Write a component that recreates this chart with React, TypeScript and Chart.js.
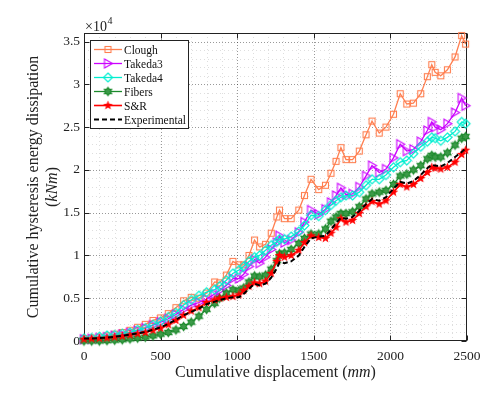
import React, { useEffect, useRef } from "react";
import { Chart, registerables } from "chart.js";

Chart.register(...registerables);

// Cumulative displacement (mm)
const displacement = [
  0, 50, 100, 150, 200, 250, 300, 350, 400, 450,
  500, 550, 600, 650, 700, 750, 800, 853, 885, 929,
  972, 1011, 1042, 1077, 1113, 1146, 1185, 1222, 1259, 1276,
  1309, 1352, 1402, 1439, 1482, 1532, 1576, 1612, 1645, 1677,
  1710, 1753, 1797, 1841, 1880, 1927, 1971, 2020, 2064, 2107,
  2150, 2198, 2241, 2270, 2292, 2329, 2372, 2422, 2465, 2491,
];

// Cumulative hysteresis energy dissipation (kNm)
const clough = [
  300, 350, 450, 600, 800, 1000, 1250, 1600, 1950, 2400,
  2700, 3200, 3900, 4700, 5100, 5000, 5600, 6900, 6800, 7700,
  9300, 8900, 8900, 10000, 11800, 11000, 11300, 12600, 14500, 15300,
  14300, 14300, 15300, 17000, 18900, 17700, 18200, 19600, 21000, 22600,
  21200, 21200, 22200, 24100, 25700, 24300, 25000, 26500, 28900, 27700,
  27800, 28900, 30900, 32300, 31400, 31000, 31700, 33200, 35700, 34700,
];
const takeda3 = [
  200, 250, 350, 450, 600, 750, 950, 1200, 1500, 1850,
  2200, 2600, 3100, 3700, 4200, 4500, 4900, 5500, 5900, 6500,
  7300, 7300, 7800, 8700, 9500, 9100, 9800, 10700, 11500, 12300,
  11500, 11800, 12700, 13900, 15300, 14800, 15400, 16200, 17000, 17900,
  17100, 17200, 18000, 19300, 20500, 19700, 20100, 21400, 23000, 22200,
  22400, 23300, 24600, 25600, 25000, 24700, 25400, 26700, 28400, 27500,
];
const takeda4 = [
  300, 350, 500, 650, 700, 850, 1000, 1300, 1500, 1900,
  2300, 2800, 3300, 4200, 4800, 5300, 5700, 6000, 6400, 7100,
  7900, 8300, 8700, 9300, 9800, 10000, 10600, 11200, 11600, 11900,
  11900, 12200, 12800, 13500, 14700, 14600, 15300, 15900, 16400, 16800,
  17000, 17000, 17400, 18200, 18900, 18900, 19400, 20300, 20900, 21100,
  21900, 22700, 23300, 23800, 23700, 23400, 23800, 24500, 25600, 25400,
];
const fibers = [
  0, 0, 0, 50, 100, 150, 250, 350, 450, 600,
  800, 1000, 1300, 1700, 2200, 2900, 3700, 4400, 5000, 5600,
  6000, 5900, 6200, 6900, 7600, 7500, 7700, 8400, 9400, 10200,
  10300, 10700, 11400, 12000, 12500, 12500, 13100, 14000, 14500, 14900,
  14900, 15100, 15700, 16600, 17200, 17400, 17600, 18300, 19300, 19500,
  20000, 20500, 21300, 21700, 21500, 21500, 22000, 22900, 23700, 23900,
];
const sAndR = [
  200, 250, 300, 350, 450, 550, 700, 850, 1000, 1250,
  1500, 1900, 2400, 3000, 3500, 3900, 4500, 4800, 5000, 5100,
  5200, 5400, 5900, 6400, 6800, 6700, 7000, 7900, 9300, 10000,
  9800, 10000, 10600, 11500, 12300, 12100, 12000, 12600, 13300, 14300,
  13900, 14100, 14900, 15700, 16300, 16000, 16400, 17400, 18300, 18000,
  18300, 19000, 19700, 20300, 20200, 20100, 20300, 20900, 21800, 22300,
];
const experimental = [
  300, 300, 350, 400, 500, 600, 750, 900, 1050, 1300,
  1600, 2000, 2500, 3000, 3400, 3800, 4300, 4600, 4800, 5000,
  5100, 5100, 5500, 6100, 6700, 6500, 6700, 7400, 8500, 9200,
  9100, 9300, 10000, 11000, 12000, 12200, 12300, 13000, 13800, 14400,
  14300, 14500, 15200, 16000, 16600, 16400, 16800, 17800, 18600, 18400,
  18700, 19400, 20200, 20600, 20500, 20400, 20800, 21500, 22100, 22500,
];

const seriesLabels = ["Clough", "Takeda3", "Takeda4", "Fibers", "S&R", "Experimental"];
const xTickValues = [0, 500, 1000, 1500, 2000, 2500];
const yTickValues = [0, 5000, 10000, 15000, 20000, 25000, 30000, 35000];
const yTickLabels = ["0", "0.5", "1", "1.5", "2", "2.5", "3", "3.5"];
const xMinorStep = 100;
const yMinorStep = 1000;

const SERIF = "'Liberation Serif', 'Times New Roman', serif";

function starPath(g: CanvasRenderingContext2D, cx: number, cy: number, n: number, ro: number, ri: number) {
  g.beginPath();
  for (let k = 0; k < n * 2; k++) {
    const r = k % 2 === 0 ? ro : ri;
    const a = -Math.PI / 2 + (k * Math.PI) / n;
    const px = cx + r * Math.cos(a);
    const py = cy + r * Math.sin(a);
    if (k === 0) g.moveTo(px, py);
    else g.lineTo(px, py);
  }
  g.closePath();
}

function makeMarker(kind: string, color: string): HTMLCanvasElement {
  const s = 13;
  const c = document.createElement("canvas");
  c.width = s;
  c.height = s;
  const g = c.getContext("2d")!;
  const m = s / 2;
  g.strokeStyle = color;
  g.fillStyle = color;
  g.lineWidth = 1.1;
  if (kind === "square") {
    g.strokeRect(3.5, 3.5, 6, 6);
  } else if (kind === "triRight") {
    g.beginPath();
    g.moveTo(m + 4.5, m);
    g.lineTo(m - 3.5, m - 4.5);
    g.lineTo(m - 3.5, m + 4.5);
    g.closePath();
    g.stroke();
  } else if (kind === "diamond") {
    g.beginPath();
    g.moveTo(m, m - 4.5);
    g.lineTo(m + 4.5, m);
    g.lineTo(m, m + 4.5);
    g.lineTo(m - 4.5, m);
    g.closePath();
    g.stroke();
  } else if (kind === "hexagram") {
    starPath(g, m, m, 6, 4.2, 2.5);
    g.fillStyle = "#3c9a48";
    g.fill();
    g.strokeStyle = color;
    g.stroke();
  } else if (kind === "pentagram") {
    starPath(g, m, m, 5, 5, 2.1);
    g.fill();
  }
  return c;
}

export default function App() {
  const ref = useRef<HTMLCanvasElement>(null);

  useEffect(() => {
    document.body.style.margin = "0";
    document.body.style.overflow = "hidden";
    const canvas = ref.current!;

    const styles = [
      { color: "#FF7F50", marker: "square", width: 1.3 },
      { color: "#CC00FF", marker: "triRight", width: 1.3 },
      { color: "#00EED0", marker: "diamond", width: 1.3 },
      { color: "#1C8A2C", marker: "hexagram", width: 1.3 },
      { color: "#FF0000", marker: "pentagram", width: 1.6 },
      { color: "#000000", marker: "none", dash: [5, 3], width: 2 },
    ] as { color: string; marker: string; dash?: number[]; width?: number }[];
    const values = [clough, takeda3, takeda4, fibers, sAndR, experimental];
    const markers = styles.map((s) => (s.marker === "none" ? null : makeMarker(s.marker, s.color)));

    const datasets = seriesLabels.map((label, i) => ({
      label,
      data: displacement.map((x, j) => ({ x, y: values[i][j] })),
      borderColor: styles[i].color,
      backgroundColor: styles[i].color,
      borderWidth: styles[i].width ?? 1,
      borderDash: styles[i].dash ?? [],
      pointStyle: (markers[i] ?? "circle") as any,
      pointRadius: markers[i] ? 5 : 0,
      pointHoverRadius: 0,
      tension: 0,
      fill: false,
      clip: false as any,
      order: seriesLabels.length - 1 - i,
    }));

    const line = (ctx: CanvasRenderingContext2D, x1: number, y1: number, x2: number, y2: number) => {
      ctx.beginPath();
      ctx.moveTo(x1, y1);
      ctx.lineTo(x2, y2);
      ctx.stroke();
    };

    const decor = {
      id: "decor",
      beforeDatasetsDraw(chart: any) {
        const { ctx, chartArea: a, scales } = chart;
        const xs = scales.x;
        const ys = scales.y;
        ctx.save();
        ctx.lineWidth = 1;
        for (let v = xMinorStep; v < xs.max; v += xMinorStep) {
          const px = Math.round(xs.getPixelForValue(v)) + 0.5;
          const major = v % 500 === 0;
          ctx.setLineDash(major ? [1, 2] : [1, 3]);
          ctx.strokeStyle = major ? "rgba(0,0,0,0.4)" : "rgba(0,0,0,0.13)";
          line(ctx, px, a.top, px, a.bottom);
        }
        for (let v = yMinorStep; v < ys.max; v += yMinorStep) {
          const py = Math.round(ys.getPixelForValue(v)) + 0.5;
          const major = v % 5000 === 0;
          ctx.setLineDash(major ? [1, 2] : [1, 3]);
          ctx.strokeStyle = major ? "rgba(0,0,0,0.4)" : "rgba(0,0,0,0.13)";
          line(ctx, a.left, py, a.right, py);
        }
        ctx.setLineDash([]);
        ctx.strokeStyle = "#222";
        ctx.lineWidth = 1;
        const L = Math.round(a.left) + 0.5;
        const R = Math.round(a.right) - 0.5;
        const T = Math.round(a.top) + 0.5;
        const B = Math.round(a.bottom) - 0.5;
        ctx.strokeRect(L, T, R - L, B - T);
        const tl = 5;
        xTickValues.forEach((v) => {
          const px = Math.round(xs.getPixelForValue(v)) + 0.5;
          line(ctx, px, B, px, B - tl);
          line(ctx, px, T, px, T + tl);
        });
        yTickValues.forEach((v) => {
          const py = Math.round(ys.getPixelForValue(v)) + 0.5;
          line(ctx, L, py, L + tl, py);
          line(ctx, R, py, R - tl, py);
        });
        ctx.restore();
      },
      afterDraw(chart: any) {
        const { ctx, chartArea: a } = chart;
        ctx.save();
        ctx.fillStyle = "#222";
        const drawMixed = (parts: { t: string; it?: boolean }[], size: number, cx: number, baseY: number) => {
          const fonts = parts.map((p) => `${p.it ? "italic " : ""}${size}px ${SERIF}`);
          const widths = parts.map((p, k) => {
            ctx.font = fonts[k];
            return ctx.measureText(p.t).width;
          });
          const total = widths.reduce((s, w) => s + w, 0);
          let x = cx - total / 2;
          ctx.textBaseline = "alphabetic";
          ctx.textAlign = "left";
          parts.forEach((p, k) => {
            ctx.font = fonts[k];
            ctx.fillText(p.t, x, baseY);
            x += widths[k];
          });
        };
        drawMixed(
          [{ t: "Cumulative displacement (" }, { t: "mm", it: true }, { t: ")" }],
          16,
          (a.left + a.right) / 2,
          377
        );
        const cy = (a.top + a.bottom) / 2;
        ctx.save();
        ctx.translate(38, cy);
        ctx.rotate(-Math.PI / 2);
        drawMixed([{ t: "Cumulative hysteresis energy dissipation" }], 16, 0, 0);
        ctx.restore();
        ctx.save();
        ctx.translate(57, cy);
        ctx.rotate(-Math.PI / 2);
        drawMixed([{ t: "(" }, { t: "kNm", it: true }, { t: ")" }], 16, 0, 0);
        ctx.restore();

        ctx.font = `14px ${SERIF}`;
        ctx.textAlign = "left";
        ctx.textBaseline = "alphabetic";
        ctx.fillText("\u00d710", 85, 31);
        const w = ctx.measureText("\u00d710").width;
        ctx.font = `10px ${SERIF}`;
        ctx.fillText("4", 85 + w + 0.5, 24);

        const bx = 90.5, by = 40.5, bw = 98, bh = 88;
        ctx.fillStyle = "#fff";
        ctx.fillRect(bx, by, bw, bh);
        ctx.strokeStyle = "#222";
        ctx.lineWidth = 1;
        ctx.strokeRect(bx, by, bw, bh);
        ctx.font = `11.5px ${SERIF}`;
        ctx.textBaseline = "middle";
        chart.data.datasets.forEach((ds: any, i: number) => {
          const yy = 49.5 + i * 14;
          ctx.strokeStyle = ds.borderColor;
          ctx.lineWidth = ds.borderWidth;
          ctx.setLineDash(ds.borderDash || []);
          line(ctx, 94, yy, 122, yy);
          ctx.setLineDash([]);
          const mk = markers[i];
          if (mk) ctx.drawImage(mk, 108 - mk.width / 2, Math.round(yy - mk.height / 2));
          ctx.fillStyle = "#111";
          ctx.fillText(ds.label, 124, yy + 1);
        });
        ctx.restore();
      },
    };

    Chart.defaults.font.family = SERIF;

    const chart = new Chart(canvas, {
      type: "line",
      data: { datasets: datasets as any },
      options: {
        responsive: false,
        animation: false,
        events: [],
        layout: { padding: { top: 33, right: 36, left: 0, bottom: 0 } },
        plugins: { legend: { display: false }, tooltip: { enabled: false } },
        scales: {
          x: {
            type: "linear",
            min: 0,
            max: 2500,
            grid: { display: false, drawTicks: false },
            border: { display: false },
            afterBuildTicks: (s: any) => {
              s.ticks = xTickValues.map((v) => ({ value: v }));
            },
            afterFit: (s: any) => {
              s.height = 56;
            },
            ticks: {
              padding: 7,
              color: "#222",
              font: { size: 13.5, family: SERIF },
              maxRotation: 0,
              autoSkip: false,
              callback: (v: any) => String(v),
            },
          },
          y: {
            type: "linear",
            min: 0,
            max: 36000,
            grid: { display: false, drawTicks: false },
            border: { display: false },
            afterBuildTicks: (s: any) => {
              s.ticks = yTickValues.map((v) => ({ value: v }));
            },
            afterFit: (s: any) => {
              s.width = 84;
            },
            ticks: {
              padding: 4,
              color: "#222",
              font: { size: 13.5, family: SERIF },
              autoSkip: false,
              callback: (v: any) => {
                const k = yTickValues.indexOf(Number(v));
                return k >= 0 ? yTickLabels[k] : "";
              },
            },
          },
        },
      },
      plugins: [decor],
    });

    return () => chart.destroy();
  }, []);

  return <canvas ref={ref} width={503} height={397} style={{ display: "block", width: 503, height: 397 }} />;
}
